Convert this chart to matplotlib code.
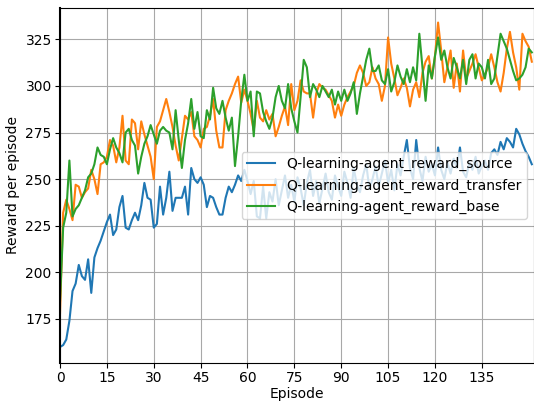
import matplotlib
matplotlib.use("Agg")
import matplotlib.pyplot as plt
import numpy as np

# rewards per episode
reward_source = [
    160, 161, 164, 174, 190, 194, 204, 198, 196, 207,
    189, 208, 213, 217, 222, 227, 231, 220, 223, 235,
    241, 224, 223, 228, 232, 228, 236, 248, 240, 239,
    224, 226, 246, 231, 240, 254, 233, 240, 240, 240,
    246, 231, 256, 250, 248, 251, 247, 235, 241, 240,
    235, 231, 231, 240, 246, 243, 247, 252, 249, 255,
    249, 242, 249, 230, 229, 246, 229, 243, 238, 250,
    236, 244, 252, 240, 247, 238, 251, 245, 236, 248,
    255, 241, 249, 237, 245, 253, 243, 239, 252, 246,
    241, 254, 248, 240, 256, 247, 243, 252, 258, 245,
    250, 257, 246, 253, 260, 248, 255, 244, 258, 252,
    262, 271, 256, 250, 271, 256, 249, 262, 254, 258,
    252, 267, 255, 250, 259, 253, 261, 256, 267, 254,
    251, 259, 255, 262, 253, 257, 260, 255, 264, 266,
    263, 270, 266, 272, 270, 267, 277, 274, 269, 265,
    262, 258,
]

reward_transfer = [
    178, 232, 239, 234, 228, 247, 246, 240, 243, 245,
    255, 250, 242, 258, 259, 262, 271, 268, 259, 267,
    284, 260, 258, 282, 280, 266, 281, 274, 268, 262,
    250, 278, 281, 287, 293, 286, 278, 268, 260, 272,
    284, 282, 286, 273, 271, 267, 277, 278, 284, 293,
    276, 267, 267, 287, 292, 296, 301, 305, 291, 298,
    292, 285, 276, 292, 283, 281, 287, 282, 285, 273,
    278, 284, 289, 279, 301, 287, 292, 303, 297, 296,
    296, 283, 296, 301, 299, 298, 295, 292, 283, 290,
    284, 290, 294, 297, 300, 307, 311, 307, 300, 302,
    310, 304, 301, 292, 300, 326, 312, 304, 295, 299,
    304, 299, 289, 298, 302, 294, 307, 313, 316, 304,
    316, 334, 319, 302, 310, 319, 299, 312, 297, 319,
    304, 308, 312, 317, 310, 303, 306, 310, 317, 310,
    302, 297, 307, 320, 329, 318, 310, 298, 328, 324,
    321, 313,
]

reward_base = [
    185, 224, 232, 260, 230, 234, 236, 240, 244, 251,
    253, 258, 267, 263, 262, 258, 266, 272, 267, 264,
    259, 275, 277, 271, 268, 253, 262, 269, 273, 279,
    274, 269, 276, 278, 276, 275, 266, 287, 271, 256,
    271, 280, 293, 277, 286, 273, 272, 287, 282, 299,
    288, 285, 292, 283, 276, 283, 257, 273, 292, 306,
    292, 297, 273, 297, 296, 286, 281, 277, 283, 294,
    300, 292, 288, 301, 288, 281, 275, 294, 314, 310,
    294, 301, 298, 294, 300, 297, 294, 298, 290, 297,
    292, 298, 292, 296, 302, 285, 296, 305, 314, 320,
    308, 308, 311, 303, 301, 309, 297, 302, 311, 305,
    301, 309, 302, 310, 303, 328, 310, 292, 311, 304,
    316, 326, 314, 319, 310, 304, 315, 310, 304, 314,
    301, 314, 317, 304, 312, 310, 304, 314, 301, 304,
    316, 328, 324, 320, 314, 308, 303, 304, 306, 310,
    320, 318,
]

episodes = np.arange(len(reward_source))

fig = plt.figure(figsize=(5.34, 4.04), dpi=100)
ax = fig.add_axes([0.1124, 0.1015, 0.8876, 0.8787])

ax.plot(episodes, reward_source, label="Q-learning-agent_reward_source", lw=1.5)
ax.plot(episodes, reward_transfer, label="Q-learning-agent_reward_transfer", lw=1.5)
ax.plot(episodes, reward_base, label="Q-learning-agent_reward_base", lw=1.5)

ax.set_xlim(0, 151.7)
ax.set_ylim(151.4, 341.8)
ax.set_xticks(np.arange(0, 150, 15))
ax.set_yticks(np.arange(175, 326, 25))
ax.tick_params(pad=2.5)
ax.set_xlabel("Episode", labelpad=1.5)
ax.set_ylabel("Reward per episode")
ax.grid(True, color="#a8a8a8")
ax.spines["left"].set_linewidth(1.5)
ax.spines["left"].set_color("black")
ax.legend(loc="center right")

fig.savefig("out.png", dpi=100)
